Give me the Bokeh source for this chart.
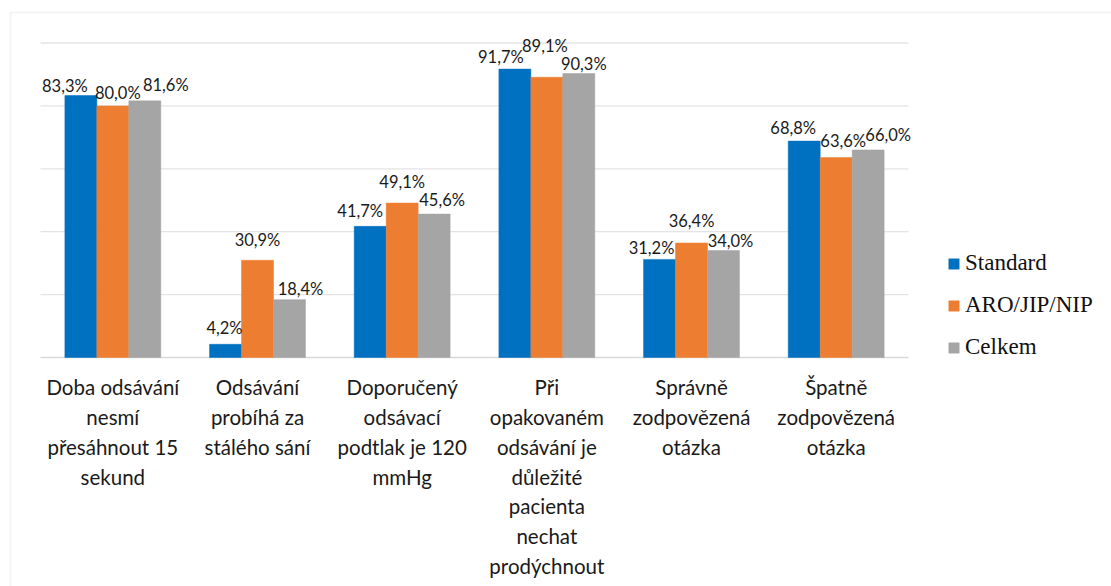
from bokeh.plotting import figure
from bokeh.models import (Range1d, ColumnDataSource, LabelSet, Legend, LegendItem, BoxAnnotation)
from bokeh.core.properties import value
from bokeh.embed import file_html
from bokeh.resources import INLINE

categories = [
    "Doba odsávání\nnesmí\npřesáhnout 15\nsekund",
    "Odsávání\nprobíhá za\nstálého sání",
    "Doporučený\nodsávací\npodtlak je 120\nmmHg",
    "Při\nopakovaném\nodsávání je\ndůležité\npacienta\nnechat\nprodýchnout",
    "Správně\nzodpovězená\notázka",
    "Špatně\nzodpovězená\notázka",
]
series = ["Standard", "ARO/JIP/NIP", "Celkem"]
standard = [83.3, 4.2, 41.7, 91.7, 31.2, 68.8]
aro = [80.0, 30.9, 49.1, 89.1, 36.4, 63.6]
celkem = [81.6, 18.4, 45.6, 90.3, 34.0, 66.0]
grid_ticks = [20, 40, 60, 80, 100]

# label placement tweaks (pixels) mimicking the original's label layout
dx = {"std": [-16, -1, -10, -14, -8, -11], "aro": [5, 0, 0, -2, 0, 7], "cel": [21, 11, 8, 5, 7, 20]}
dy = {"std": [10, 16, 15, 12, 11, 13], "aro": [13, 20, 21, 31, 22, 16], "cel": [16, 11, 14, 10, 10, 15]}

colors = ["#0070C0", "#ED7D31", "#A5A5A5"]
keys = ["std", "aro", "cel"]
vals = [standard, aro, celkem]

def fmt(v):
    return ("%.1f" % v).replace(".", ",") + "%"

idx = list(range(len(categories)))
src = ColumnDataSource(dict(cat=categories, i=idx, base=[0] * len(categories)))

# geometry of the canvas (pixels)
CW, CH = 1111, 586
PX_CAT = 144.67          # pixels per category
PLOT_LEFT = 40           # left edge of first category
BASE_Y = 357             # baseline position from top
PX_PCT = 3.145           # pixels per percent
x0 = -0.5 - PLOT_LEFT / PX_CAT
x1 = x0 + CW / PX_CAT
y1 = BASE_Y / PX_PCT
y0 = y1 - CH / PX_PCT

p = figure(x_range=Range1d(x0, x1), y_range=Range1d(y0, y1),
           width=CW, height=CH, output_backend="svg", toolbar_location=None,
           x_axis_location=None, y_axis_location=None, min_border=0)
p.outline_line_color = None
p.background_fill_color = "white"
p.border_fill_color = "white"
p.xgrid.visible = False
p.ygrid.visible = False

n = len(categories)
# horizontal gridlines spanning the category area
p.segment(x0=[-0.5] * len(grid_ticks), x1=[n - 0.5] * len(grid_ticks), y0=grid_ticks, y1=grid_ticks,
          line_color="#e4e4e4", line_width=1.3)
# category axis baseline
p.segment(x0=[-0.5], x1=[n - 0.5], y0=[0], y1=[0], line_color="#d9d9d9", line_width=1.5)

W = 0.221
offsets = [-W, 0, W]
renderers = []
for k, c, off, v in zip(keys, colors, offsets, vals):
    xs = [i + off for i in idx]
    s = ColumnDataSource(dict(x=xs, top=v, lbl=[fmt(t) for t in v], dx=dx[k], dy=dy[k]))
    r = p.vbar(x="x", top="top", width=W, source=s, fill_color=c, line_color=c, line_width=0.5)
    renderers.append(r)
    ls = LabelSet(x="x", y="top", text="lbl", x_offset="dx", y_offset="dy", source=s,
                  text_align="center", text_baseline="middle",
                  text_font=value("Lato"), text_font_size="16.5px", text_color="#1a1a1a")
    p.add_layout(ls)

# category labels below the baseline
p.text(x="i", y="base", text="cat", source=src, y_offset=17.5,
       text_align="center", text_baseline="top", text_font=value("Lato"),
       text_font_size="20.5px", text_color="#1a1a1a", text_line_height=1.244)

legend = Legend(items=[LegendItem(label=s, renderers=[r]) for s, r in zip(series, renderers)],
                location=(947, 218), orientation="vertical", padding=0, margin=0, spacing=0,
                label_height=42, glyph_height=13, glyph_width=13, label_standoff=5,
                border_line_color=None, background_fill_alpha=0,
                label_text_font="Liberation Serif", label_text_font_size="23px",
                label_text_color="#111111")
p.add_layout(legend)

border = BoxAnnotation(left=10, right=1300, top=12, bottom=900,
                       left_units="canvas", right_units="canvas", top_units="canvas", bottom_units="canvas",
                       fill_alpha=0, line_color="#d9d9d9", line_width=2, level="underlay")
p.add_layout(border)

open("out.html", "w").write(file_html(p, INLINE))
